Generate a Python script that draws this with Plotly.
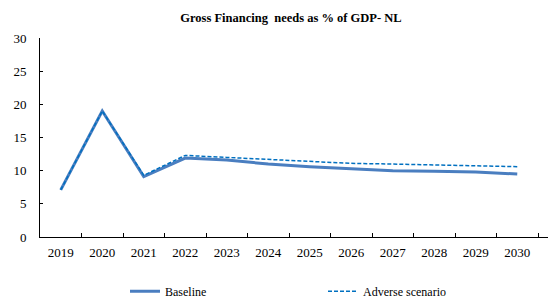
import plotly.graph_objects as go

years = ["2019", "2020", "2021", "2022", "2023", "2024", "2025", "2026", "2027", "2028", "2029", "2030"]
baseline = [7.1, 19.0, 9.1, 11.9, 11.6, 11.0, 10.6, 10.3, 10.0, 9.9, 9.8, 9.5]
adverse = [7.1, 19.0, 9.3, 12.3, 12.0, 11.7, 11.3, 11.1, 11.0, 10.9, 10.8, 10.6]
y_ticks = [0, 5, 10, 15, 20, 25, 30]

font = "Liberation Serif"

W, H = 548, 290
L, R, T, B = 32, 0, 29.5, 60.5
PW, PH = W - L - R, H - T - B
STEP = 41.5

fig = go.Figure()
fig.add_trace(go.Scatter(x=years, y=baseline, mode="lines", name="Baseline",
                         line=dict(color="#4A7EC0", width=3), legend="legend"))
fig.add_trace(go.Scatter(x=years, y=adverse, mode="lines", name="Adverse scenario",
                         line=dict(color="#0070C0", width=1.5, dash="4px,2px"), legend="legend2"))

leg_common = dict(orientation="h", yanchor="middle", font=dict(family=font, size=12, color="black"),
                  bgcolor="rgba(0,0,0,0)", itemwidth=30)
leg_y = -(284 - (T + PH)) / PH

fig.update_layout(
    width=W, height=H,
    margin=dict(l=L, r=R, t=T, b=B, pad=0, autoexpand=False),
    paper_bgcolor="white", plot_bgcolor="white",
    font=dict(family=font, size=13, color="black"),
    title=dict(text="<b>Gross Financing  needs as % of GDP- NL</b>", x=283 / W, xanchor="center",
               y=1 - 10 / H, yanchor="middle", font=dict(family=font, size=12.5, color="black")),
    showlegend=True,
    legend=dict(x=(117 - L) / PW, y=leg_y, xanchor="left", **leg_common),
    legend2=dict(x=(315 - L) / PW, y=leg_y, xanchor="left", **leg_common),
    xaxis=dict(type="category", range=[-0.5, -0.5 + PW / STEP], showline=True,
               linecolor="black", linewidth=1,
               ticks="inside", ticklen=4, tickcolor="black", tickson="boundaries",
               showgrid=False, automargin=False, ticklabelstandoff=3,
               tickfont=dict(family=font, size=13)),
    yaxis=dict(range=[0, 30], tickvals=y_ticks, showline=True, linecolor="black", linewidth=1,
               ticks="inside", ticklen=3, tickcolor="black", showgrid=False, zeroline=False,
               automargin=False, ticklabelstandoff=10, tickfont=dict(family=font, size=13)),
)

fig.write_html("out.html")
